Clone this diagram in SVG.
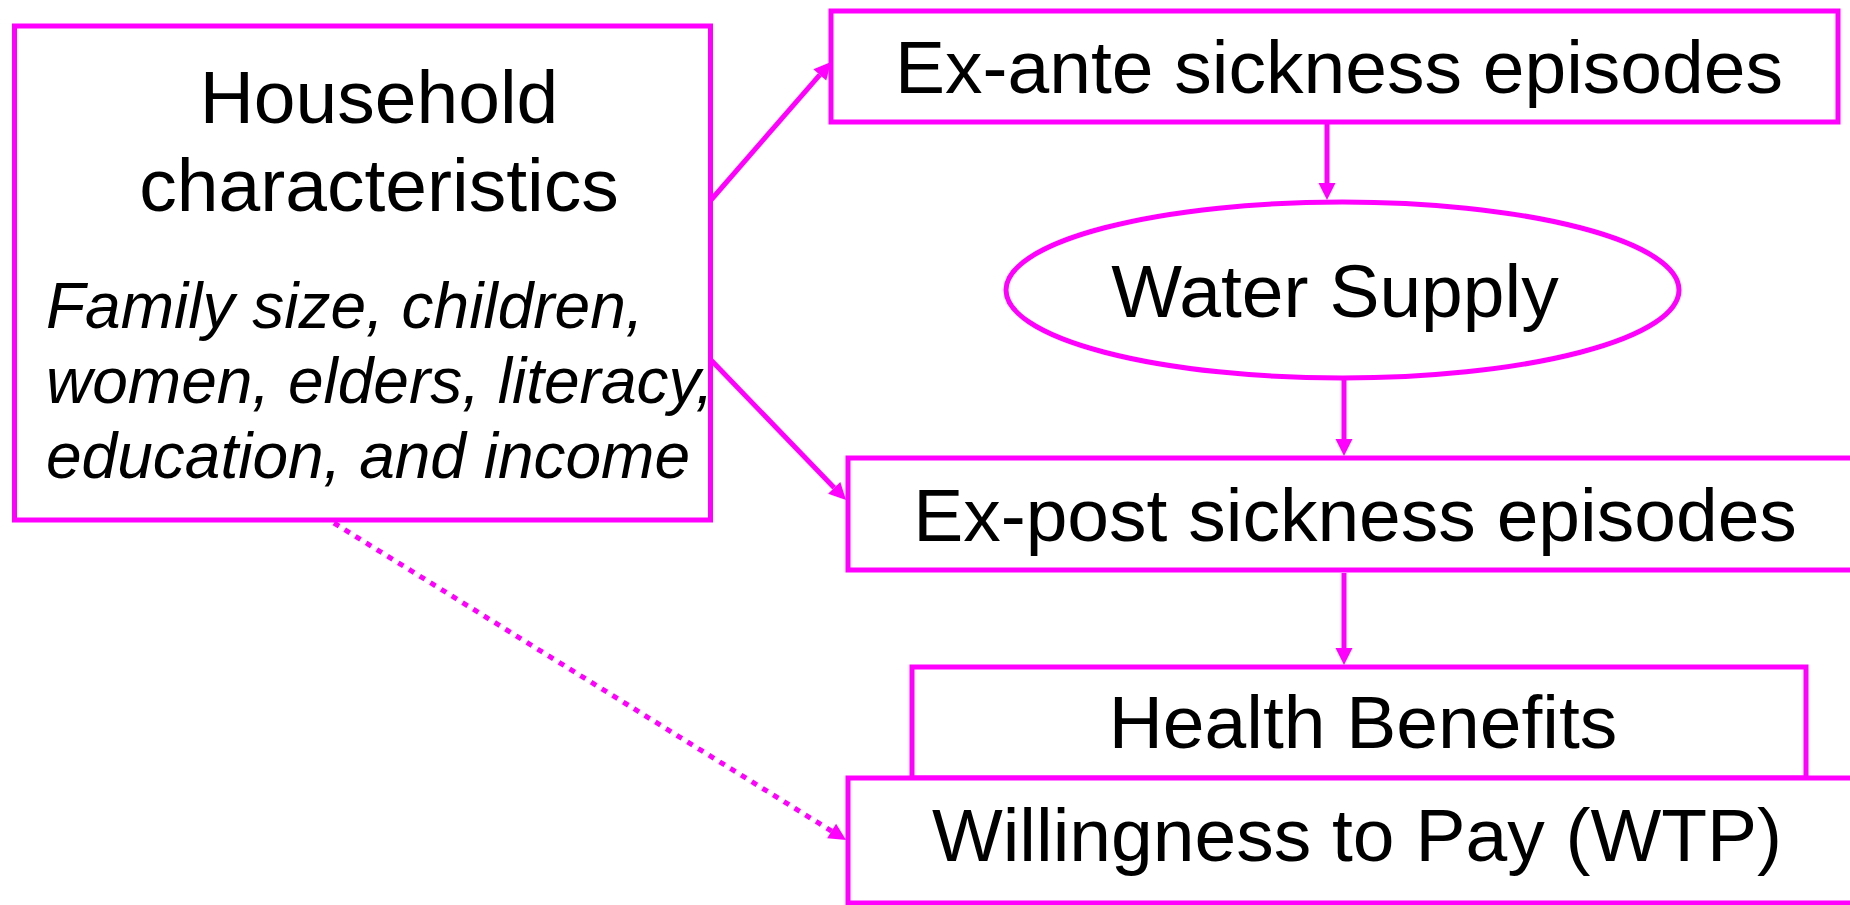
<svg xmlns="http://www.w3.org/2000/svg" width="1850" height="905" viewBox="0 0 1850 905">
  <style>
    .box { fill: #FFFFFF; stroke: #FF00FF; stroke-width: 5; }
    .lbl { font-family: "Liberation Sans", Arial, sans-serif; font-size: 75px; fill: #000000; text-anchor: middle; }
    .sub { font-family: "Liberation Sans", Arial, sans-serif; font-size: 64px; font-style: italic; fill: #000000; }
    .link { fill: none; stroke: #FF00FF; stroke-width: 5; }
    .dotted { stroke-dasharray: 6 6.6; }
  </style>
  <defs>
    <marker id="head" markerUnits="userSpaceOnUse" markerWidth="17" markerHeight="17" refX="0" refY="8.5" orient="auto" overflow="visible">
      <path d="M0,0 L17,8.5 L0,17 z" fill="#FF00FF"/>
    </marker>
  </defs>
  <rect width="1850" height="905" fill="#FFFFFF"/>

  <g id="connectors">
    <line class="link" x1="711" y1="200" x2="819.8" y2="74.8" marker-end="url(#head)"/>
    <line class="link" x1="711" y1="360" x2="834.2" y2="487.8" marker-end="url(#head)"/>
    <line class="link dotted" x1="334" y1="523" x2="831.6" y2="831.1" marker-end="url(#head)"/>
    <line class="link" x1="1327" y1="124" x2="1327" y2="183" marker-end="url(#head)"/>
    <line class="link" x1="1344" y1="378" x2="1344" y2="439" marker-end="url(#head)"/>
    <line class="link" x1="1344" y1="573" x2="1344" y2="648" marker-end="url(#head)"/>
  </g>

  <g id="household">
    <rect class="box" x="14.5" y="26" width="696" height="494"/>
    <text class="lbl" x="379" y="123">Household</text>
    <text class="lbl" x="379" y="211">characteristics</text>
    <text class="sub" x="46" y="328">Family size, children,</text>
    <text class="sub" x="46" y="403">women, elders, literacy,</text>
    <text class="sub" x="46" y="478">education, and income</text>
  </g>

  <g id="ex-ante">
    <rect class="box" x="831" y="11" width="1007" height="111"/>
    <text class="lbl" x="1339" y="93">Ex-ante sickness episodes</text>
  </g>

  <g id="water-supply">
    <ellipse class="box" cx="1342.5" cy="290" rx="336.5" ry="88"/>
    <text class="lbl" x="1335" y="317">Water Supply</text>
  </g>

  <g id="ex-post">
    <rect class="box" x="848" y="458" width="1020" height="112"/>
    <text class="lbl" x="1355" y="541">Ex-post sickness episodes</text>
  </g>

  <g id="health-benefits">
    <rect class="box" x="912" y="667" width="894" height="111"/>
    <text class="lbl" x="1363" y="748">Health Benefits</text>
  </g>

  <g id="wtp">
    <rect class="box" x="848" y="778" width="1020" height="125"/>
    <text class="lbl" x="1357" y="861">Willingness to Pay (WTP)</text>
  </g>
</svg>
